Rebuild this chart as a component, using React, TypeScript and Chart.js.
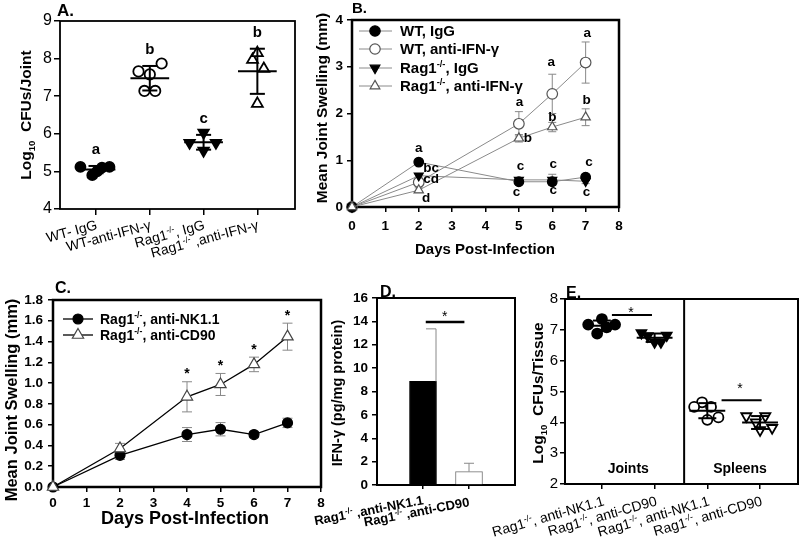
import React, { useEffect, useRef } from 'react';
import { Chart, registerables } from 'chart.js';

Chart.register(...registerables);

const FONT = '"Liberation Sans", Arial, Helvetica, sans-serif';

// ---------------- Panel A data ----------------
const aCategories = ['WT- IgG', 'WT-anti-IFN-γ', 'Rag1^{-/-}, IgG', 'Rag1^{-/-} ,anti-IFN-γ'];
const aWtIgG = [5.12, 4.9, 5.0, 5.1, 5.12];
const aWtIgGJitter = [-0.29, -0.07, 0.02, 0.11, 0.25];
const aWtAnti = [7.66, 7.58, 7.87, 7.14, 7.14];
const aWtAntiJitter = [-0.21, 0.0, 0.22, -0.1, 0.1];
const aRagIgG = [6.03, 5.76, 5.76, 5.55];
const aRagIgGJitter = [0.0, -0.26, 0.23, 0.0];
const aRagAnti = [7.97, 8.15, 7.73, 6.8];
const aRagAntiJitter = [-0.09, 0.0, 0.12, 0.0];
const aLetters = ['a', 'b', 'c', 'b'];
const aYTicks = [4, 5, 6, 7, 8, 9];

// ---------------- Panel B data ----------------
const bDays = [0, 2, 5, 6, 7];
const bXTicks = [0, 1, 2, 3, 4, 5, 6, 7, 8];
const bYTicks = [0, 1, 2, 3, 4];
const bSeriesNames = ['WT, IgG', 'WT, anti-IFN-γ', 'Rag1^{-/-}, IgG', 'Rag1^{-/-}, anti-IFN-γ'];
const bWtIgG = [0, 0.96, 0.54, 0.54, 0.64];
const bWtIgGErr = [0, 0.04, 0.05, 0.05, 0.05];
const bWtAnti = [0, 0.53, 1.78, 2.42, 3.09];
const bWtAntiErr = [0, 0.05, 0.26, 0.42, 0.44];
const bRagIgG = [0, 0.67, 0.58, 0.58, 0.55];
const bRagIgGErr = [0, 0.03, 0.05, 0.12, 0.05];
const bRagAnti = [0, 0.36, 1.47, 1.71, 1.92];
const bRagAntiErr = [0, 0.05, 0.08, 0.1, 0.18];
const bLetterText = ['a', 'bc', 'cd', 'd', 'a', 'b', 'c', 'c', 'a', 'b', 'c', 'c', 'a', 'b', 'c', 'c'];
const bLetterX = [2, 2.37, 2.37, 2.22, 5.02, 5.27, 5.05, 4.93, 5.97, 6.0, 6.03, 6.03, 7.05, 7.03, 7.1, 7.03];
const bLetterY = [1.26, 0.84, 0.6, 0.2, 2.25, 1.48, 0.88, 0.32, 3.11, 1.92, 0.93, 0.36, 3.73, 2.29, 0.97, 0.33];

// ---------------- Panel C data ----------------
const cDays = [0, 2, 4, 5, 6, 7];
const cXTicks = [0, 1, 2, 3, 4, 5, 6, 7, 8];
const cYTicks = [0, 0.2, 0.4, 0.6, 0.8, 1.0, 1.2, 1.4, 1.6, 1.8];
const cSeriesNames = ['Rag1^{-/-}, anti-NK1.1', 'Rag1^{-/-}, anti-CD90'];
const cNK = [0, 0.305, 0.505, 0.556, 0.505, 0.617];
const cNKErr = [0, 0.04, 0.067, 0.064, 0.03, 0.045];
const cCD90 = [0, 0.37, 0.868, 0.987, 1.18, 1.447];
const cCD90Err = [0, 0.05, 0.145, 0.106, 0.07, 0.13];
const cStarDays = [4, 5, 6, 7];

// ---------------- Panel D data ----------------
const dCategories = ['Rag1^{-/-} ,anti-NK1.1', 'Rag1^{-/-} ,anti-CD90'];
const dValues = [8.86, 1.14];
const dErrors = [4.5, 0.72];
const dYTicks = [0, 2, 4, 6, 8, 10, 12, 14, 16];

// ---------------- Panel E data ----------------
const eCategories = ['Rag1^{-/-}, anti-NK1.1', 'Rag1^{-/-}, anti-CD90', 'Rag1^{-/-}, anti-NK1.1', 'Rag1^{-/-}, anti-CD90'];
const eJointsNK = [7.17, 7.35, 7.17, 6.88, 7.08];
const eJointsNKJitter = [-0.26, 0.0, 0.25, -0.09, 0.09];
const eJointsCD90 = [6.9, 6.8, 6.6, 6.6, 6.82];
const eJointsCD90Jitter = [-0.25, -0.13, 0.0, 0.12, 0.23];
const eSpleensNK = [4.65, 4.5, 4.5, 4.08, 4.16];
const eSpleensNKJitter = [-0.1, -0.25, 0.07, 0.0, 0.21];
const eSpleensCD90 = [4.2, 4.0, 4.2, 3.75, 3.82];
const eSpleensCD90Jitter = [-0.26, -0.08, 0.1, 0.0, 0.23];
const eTissues = ['Joints', 'Spleens'];
const eYTicks = [2, 3, 4, 5, 6, 7, 8];

// ---------------- helpers ----------------
type Rect = { x: number; y: number; w: number; h: number };
type Plot = { l: number; t: number; r: number; b: number };

function frameOpts(rect: Rect, plot: Plot) {
  return {
    padding: { left: 0, top: plot.t - rect.y, right: rect.x + rect.w - plot.r, bottom: 0 },
    yW: plot.l - rect.x,
    xH: rect.y + rect.h - plot.b,
  };
}

function parseRich(s: string) {
  const out: { t: string; k: number }[] = [];
  const re = /([\^_])\{([^}]*)\}/g;
  let last = 0;
  let m: any;
  while ((m = re.exec(s)) !== null) {
    if (m.index > last) out.push({ t: s.slice(last, m.index), k: 0 });
    out.push({ t: m[2], k: m[1] === '^' ? 1 : 2 });
    last = re.lastIndex;
  }
  if (last < s.length) out.push({ t: s.slice(last), k: 0 });
  return out;
}

function fontStr(size: number, bold: boolean) {
  return `${bold ? 'bold ' : ''}${size}px ${FONT}`;
}

function drawRich(ctx: any, s: string, x: number, y: number, size: number, bold: boolean, align: string) {
  const parts = parseRich(s);
  const small = size * 0.62;
  const widths = parts.map((p) => {
    ctx.font = fontStr(p.k ? small : size, bold);
    return ctx.measureText(p.t).width;
  });
  const total = widths.reduce((a, b) => a + b, 0);
  let cx = align === 'left' ? x : align === 'center' ? x - total / 2 : x - total;
  ctx.textAlign = 'left';
  ctx.textBaseline = 'alphabetic';
  ctx.fillStyle = '#000';
  parts.forEach((p, i) => {
    ctx.font = fontStr(p.k ? small : size, bold);
    const dy = p.k === 1 ? -size * 0.4 : p.k === 2 ? size * 0.22 : 0;
    ctx.fillText(p.t, cx, y + dy);
    cx += widths[i];
  });
}

function drawRichRot(ctx: any, s: string, x: number, y: number, deg: number, size: number, bold: boolean, align: string) {
  ctx.save();
  ctx.translate(x, y);
  ctx.rotate((deg * Math.PI) / 180);
  drawRich(ctx, s, 0, 0, size, bold, align);
  ctx.restore();
}

function drawVTitle(ctx: any, s: string, cx: number, cy: number, size: number) {
  drawRichRot(ctx, s, cx + size * 0.35, cy, -90, size, true, 'center');
}

function drawStar(ctx: any, cx: number, cy: number, size: number, bold: boolean) {
  ctx.save();
  ctx.font = fontStr(size, bold);
  ctx.fillStyle = '#000';
  ctx.textAlign = 'center';
  ctx.textBaseline = 'alphabetic';
  ctx.fillText('*', cx, cy + size * 0.57);
  ctx.restore();
}

function seg(ctx: any, x1: number, y1: number, x2: number, y2: number) {
  ctx.beginPath();
  ctx.moveTo(x1, y1);
  ctx.lineTo(x2, y2);
  ctx.stroke();
}

function box(chart: any, lw: number) {
  const { ctx, chartArea: a } = chart;
  ctx.save();
  ctx.strokeStyle = '#000';
  ctx.lineWidth = lw;
  ctx.strokeRect(a.left, a.top, a.right - a.left, a.bottom - a.top);
  ctx.restore();
}

function mean(v: number[]) {
  return v.reduce((a, b) => a + b, 0) / v.length;
}
function sd(v: number[]) {
  const m = mean(v);
  return Math.sqrt(v.reduce((a, b) => a + (b - m) * (b - m), 0) / (v.length - 1));
}

function marker(ctx: any, style: string, x: number, y: number, r: number, fill: string, stroke: string, lw: number) {
  ctx.save();
  ctx.fillStyle = fill;
  ctx.strokeStyle = stroke;
  ctx.lineWidth = lw;
  ctx.beginPath();
  if (style === 'circle') {
    ctx.arc(x, y, r, 0, Math.PI * 2);
  } else {
    const dir = style === 'dtri' ? -1 : 1;
    ctx.moveTo(x, y - dir * r);
    ctx.lineTo(x + r * 0.866, y + dir * r * 0.5);
    ctx.lineTo(x - r * 0.866, y + dir * r * 0.5);
    ctx.closePath();
  }
  ctx.fill();
  ctx.stroke();
  ctx.restore();
}

function linAxis(o: any) {
  return {
    type: 'linear',
    min: o.min,
    max: o.max,
    offset: false,
    afterFit: o.fit,
    afterBuildTicks: (s: any) => {
      s.ticks = o.ticks.map((v: number) => ({ value: v }));
    },
    ticks: {
      display: o.show,
      color: '#000',
      padding: o.pad,
      autoSkip: false,
      maxRotation: 0,
      font: { family: FONT, size: o.size, weight: o.bold ? 'bold' : 'normal' },
      callback: o.fmt || ((v: number) => String(v)),
    },
    grid: {
      display: true,
      drawOnChartArea: false,
      drawTicks: true,
      tickLength: o.tl,
      tickColor: '#000',
      tickWidth: 1.5,
      color: '#000',
      lineWidth: 1.5,
      offset: false,
    },
    border: { display: false },
  };
}

function baseOptions(f: any, scales: any) {
  return {
    responsive: false,
    animation: false,
    devicePixelRatio: 1,
    events: [],
    layout: { padding: f.padding, autoPadding: false },
    plugins: { legend: { display: false }, tooltip: { enabled: false }, title: { display: false } },
    scales,
  };
}

// ---------------- Panel A ----------------
function makeA(rect: Rect) {
  const plot = { l: 60, t: 21, r: 295, b: 209 };
  const f = frameOpts(rect, plot);
  const groups = [aWtIgG, aWtAnti, aRagIgG, aRagAnti];
  const jit = [aWtIgGJitter, aWtAntiJitter, aRagIgGJitter, aRagAntiJitter];
  const st = [
    { ps: 'circle', rot: 0, r: 5, fill: '#000' },
    { ps: 'circle', rot: 0, r: 5.2, fill: '#fff' },
    { ps: 'triangle', rot: 180, r: 6, fill: '#000' },
    { ps: 'triangle', rot: 0, r: 6.3, fill: '#fff' },
  ];
  const datasets = groups.map((vals, i) => ({
    data: vals.map((v, k) => ({ x: i + 1 + jit[i][k], y: v })),
    pointStyle: st[i].ps,
    pointRotation: st[i].rot,
    pointRadius: st[i].r,
    pointBackgroundColor: st[i].fill,
    pointBorderColor: '#000',
    pointBorderWidth: 1.8,
    showLine: false,
    clip: false,
  }));
  const plugin = {
    id: 'aDecor',
    beforeDatasetsDraw(chart: any) {
      box(chart, 1.8);
    },
    afterDatasetsDraw(chart: any) {
      const { ctx, chartArea } = chart;
      const x = chart.scales.x;
      const y = chart.scales.y;
      const u = x.getPixelForValue(2) - x.getPixelForValue(1);
      ctx.save();
      ctx.strokeStyle = '#000';
      ctx.lineWidth = 2;
      groups.forEach((vals, i) => {
        const m = mean(vals);
        const s = sd(vals);
        const cx = x.getPixelForValue(i + 1);
        seg(ctx, cx - 0.36 * u, y.getPixelForValue(m), cx + 0.36 * u, y.getPixelForValue(m));
        seg(ctx, cx, y.getPixelForValue(m - s), cx, y.getPixelForValue(m + s));
        seg(ctx, cx - 0.14 * u, y.getPixelForValue(m - s), cx + 0.14 * u, y.getPixelForValue(m - s));
        seg(ctx, cx - 0.14 * u, y.getPixelForValue(m + s), cx + 0.14 * u, y.getPixelForValue(m + s));
        drawRich(ctx, aLetters[i], cx, y.getPixelForValue(m + s + 0.44) + 15 * 0.3, 15, true, 'center');
      });
      aCategories.forEach((c, i) => {
        drawRichRot(ctx, c, x.getPixelForValue(i + 1) + 2, chartArea.bottom + 20, -15, 14, false, 'right');
      });
      drawRich(ctx, 'A.', 57 - rect.x, 16 - rect.y, 17, true, 'left');
      drawVTitle(ctx, 'Log_{10}  CFUs/Joint', 26 - rect.x, 115 - rect.y, 15.5);
      ctx.restore();
    },
  };
  return {
    type: 'scatter',
    data: { datasets },
    options: baseOptions(f, {
      x: linAxis({ min: 0.33, max: 4.7, ticks: [1, 2, 3, 4], show: false, pad: 0, size: 14, bold: false, tl: 6, fit: (s: any) => { s.height = f.xH; } }),
      y: linAxis({ min: 4, max: 9, ticks: aYTicks, show: true, pad: 2, size: 16, bold: false, tl: 6, fit: (s: any) => { s.width = f.yW; } }),
    }),
    plugins: [plugin],
  };
}

// ---------------- Panel B ----------------
function makeB(rect: Rect) {
  const plot = { l: 352, t: 20, r: 619, b: 207 };
  const f = frameOpts(rect, plot);
  const series = [
    { v: bWtIgG, e: bWtIgGErr, ps: 'circle', mk: 'circle', rot: 0, r: 4.8, fill: '#000', stroke: '#000', order: 1 },
    { v: bWtAnti, e: bWtAntiErr, ps: 'circle', mk: 'circle', rot: 0, r: 5.3, fill: '#fff', stroke: '#555', order: 3 },
    { v: bRagIgG, e: bRagIgGErr, ps: 'triangle', mk: 'dtri', rot: 180, r: 5.2, fill: '#000', stroke: '#000', order: 2 },
    { v: bRagAnti, e: bRagAntiErr, ps: 'triangle', mk: 'tri', rot: 0, r: 5.4, fill: '#fff', stroke: '#555', order: 0 },
  ];
  const datasets = series.map((s) => ({
    data: s.v.map((v, k) => ({ x: bDays[k], y: v })),
    showLine: true,
    borderColor: '#8a8a8a',
    borderWidth: 1,
    pointStyle: s.ps,
    pointRotation: s.rot,
    pointRadius: s.r,
    pointBackgroundColor: s.fill,
    pointBorderColor: s.stroke,
    pointBorderWidth: 1.2,
    order: s.order,
    clip: false,
  }));
  const plugin = {
    id: 'bDecor',
    beforeDatasetsDraw(chart: any) {
      const { ctx } = chart;
      const x = chart.scales.x;
      const y = chart.scales.y;
      ctx.save();
      ctx.strokeStyle = '#888';
      ctx.lineWidth = 1;
      series.forEach((s) => {
        s.v.forEach((v, k) => {
          if (!s.e[k]) return;
          const px = x.getPixelForValue(bDays[k]);
          const y1 = y.getPixelForValue(v - s.e[k]);
          const y2 = y.getPixelForValue(v + s.e[k]);
          seg(ctx, px, y1, px, y2);
          seg(ctx, px - 4, y1, px + 4, y1);
          seg(ctx, px - 4, y2, px + 4, y2);
        });
      });
      ctx.restore();
      box(chart, 2.5);
    },
    afterDatasetsDraw(chart: any) {
      const { ctx } = chart;
      const x = chart.scales.x;
      const y = chart.scales.y;
      bLetterText.forEach((t, i) => {
        drawRich(ctx, t, x.getPixelForValue(bLetterX[i]), y.getPixelForValue(bLetterY[i]) + 13.5 * 0.3, 13.5, true, 'center');
      });
      // legend
      const ly = [31, 49, 68, 86];
      series.forEach((s, i) => {
        const yy = ly[i] - rect.y;
        ctx.save();
        ctx.strokeStyle = '#8a8a8a';
        ctx.lineWidth = 1;
        seg(ctx, 359 - rect.x, yy, 392 - rect.x, yy);
        ctx.restore();
        marker(ctx, s.mk, 375 - rect.x, yy, s.mk === 'circle' ? 5.2 : 5.6, s.fill, s.stroke, 1.2);
        drawRich(ctx, bSeriesNames[i], 400 - rect.x, yy + 5.3, 15, true, 'left');
      });
      drawRich(ctx, 'B.', 352 - rect.x, 13 - rect.y, 15, true, 'left');
      drawVTitle(ctx, 'Mean Joint Swelling (mm)', 322 - rect.x, 108 - rect.y, 15.5);
      drawRich(ctx, 'Days Post-Infection', 485 - rect.x, 254 - rect.y, 15, true, 'center');
    },
  };
  return {
    type: 'scatter',
    data: { datasets },
    options: baseOptions(f, {
      x: linAxis({ min: 0, max: 8, ticks: bXTicks, show: true, pad: 6, size: 13.5, bold: true, tl: 5, fit: (s: any) => { s.height = f.xH; } }),
      y: linAxis({ min: 0, max: 4, ticks: bYTicks, show: true, pad: 4, size: 13.5, bold: true, tl: 5, fit: (s: any) => { s.width = f.yW; } }),
    }),
    plugins: [plugin],
  };
}

// ---------------- Panel C ----------------
function makeC(rect: Rect) {
  const plot = { l: 53, t: 300, r: 321, b: 487 };
  const f = frameOpts(rect, plot);
  const series = [
    { v: cNK, e: cNKErr, ps: 'circle', mk: 'circle', r: 5, fill: '#000', stroke: '#000', order: 1 },
    { v: cCD90, e: cCD90Err, ps: 'triangle', mk: 'tri', r: 6.5, fill: '#fff', stroke: '#444', order: 0 },
  ];
  const datasets = series.map((s) => ({
    data: s.v.map((v, k) => ({ x: cDays[k], y: v })),
    showLine: true,
    borderColor: '#000',
    borderWidth: 1.3,
    pointStyle: s.ps,
    pointRadius: s.r,
    pointBackgroundColor: s.fill,
    pointBorderColor: s.stroke,
    pointBorderWidth: 1.2,
    order: s.order,
    clip: false,
  }));
  const plugin = {
    id: 'cDecor',
    beforeDatasetsDraw(chart: any) {
      const { ctx } = chart;
      const x = chart.scales.x;
      const y = chart.scales.y;
      ctx.save();
      ctx.strokeStyle = '#888';
      ctx.lineWidth = 1;
      series.forEach((s) => {
        s.v.forEach((v, k) => {
          if (!s.e[k]) return;
          const px = x.getPixelForValue(cDays[k]);
          const y1 = y.getPixelForValue(v - s.e[k]);
          const y2 = y.getPixelForValue(v + s.e[k]);
          seg(ctx, px, y1, px, y2);
          seg(ctx, px - 5, y1, px + 5, y1);
          seg(ctx, px - 5, y2, px + 5, y2);
        });
      });
      ctx.restore();
      box(chart, 2.5);
    },
    afterDatasetsDraw(chart: any) {
      const { ctx } = chart;
      const x = chart.scales.x;
      const y = chart.scales.y;
      cStarDays.forEach((d) => {
        const k = cDays.indexOf(d);
        drawStar(ctx, x.getPixelForValue(d), y.getPixelForValue(cCD90[k] + cCD90Err[k] + 0.11), 14, true);
      });
      const ly = [319, 335];
      series.forEach((s, i) => {
        const yy = ly[i] - rect.y;
        ctx.save();
        ctx.strokeStyle = '#000';
        ctx.lineWidth = 1.3;
        seg(ctx, 63 - rect.x, yy, 93 - rect.x, yy);
        ctx.restore();
        marker(ctx, s.mk, 78 - rect.x, yy, s.mk === 'circle' ? 5 : 6.5, s.fill, s.stroke, 1.2);
        drawRich(ctx, cSeriesNames[i], 100 - rect.x, yy + 5, 14, true, 'left');
      });
      drawRich(ctx, 'C.', 55 - rect.x, 293 - rect.y, 16, true, 'left');
      drawVTitle(ctx, 'Mean Joint Swelling (mm)', 11 - rect.x, 400 - rect.y, 16.5);
      drawRich(ctx, 'Days Post-Infection', 185 - rect.x, 524 - rect.y, 18, true, 'center');
    },
  };
  return {
    type: 'scatter',
    data: { datasets },
    options: baseOptions(f, {
      x: linAxis({ min: 0, max: 8, ticks: cXTicks, show: true, pad: 3, size: 13.5, bold: true, tl: 5, fit: (s: any) => { s.height = f.xH; } }),
      y: linAxis({ min: 0, max: 1.8, ticks: cYTicks, show: true, pad: 5, size: 13.5, bold: true, tl: 5, fmt: (v: number) => v.toFixed(1), fit: (s: any) => { s.width = f.yW; } }),
    }),
    plugins: [plugin],
  };
}

// ---------------- Panel D ----------------
function makeD(rect: Rect) {
  const plot = { l: 377, t: 298, r: 515, b: 485 };
  const f = frameOpts(rect, plot);
  const datasets = [
    {
      type: 'bar',
      data: dValues.map((v, i) => ({ x: i + 1, y: v })),
      backgroundColor: ['#000', '#fff'],
      borderColor: ['#000', '#777'],
      borderWidth: 1,
      barThickness: 27,
    },
  ];
  const plugin = {
    id: 'dDecor',
    beforeDatasetsDraw(chart: any) {
      box(chart, 2);
    },
    afterDatasetsDraw(chart: any) {
      const { ctx, chartArea } = chart;
      const x = chart.scales.x;
      const y = chart.scales.y;
      ctx.save();
      ctx.strokeStyle = '#888';
      ctx.lineWidth = 1;
      dValues.forEach((v, i) => {
        const cx = x.getPixelForValue(i + 1);
        const ex = i === 0 ? cx + 13 : cx;
        const y1 = y.getPixelForValue(v);
        const y2 = y.getPixelForValue(v + dErrors[i]);
        seg(ctx, ex, y1, ex, y2);
        if (i === 0) seg(ctx, ex - 10, y2, ex, y2);
        else seg(ctx, ex - 5, y2, ex + 5, y2);
      });
      ctx.strokeStyle = '#000';
      ctx.lineWidth = 2.5;
      const sy = y.getPixelForValue(13.95);
      seg(ctx, x.getPixelForValue(1.06), sy, x.getPixelForValue(1.9), sy);
      ctx.restore();
      drawStar(ctx, x.getPixelForValue(1.47), y.getPixelForValue(14.75), 14, false);
      dCategories.forEach((c, i) => {
        drawRichRot(ctx, c, x.getPixelForValue(i + 1) + 1, chartArea.bottom + (i === 0 ? 19 : 21), -11, 13, true, 'right');
      });
      drawRich(ctx, 'D.', 380 - rect.x, 297 - rect.y, 16, true, 'left');
      drawVTitle(ctx, 'IFN-γ (pg/mg protein)', 337 - rect.x, 393 - rect.y, 14.5);
    },
  };
  return {
    type: 'bar',
    data: { datasets },
    options: baseOptions(f, {
      x: linAxis({ min: 0, max: 3, ticks: [1, 2], show: false, pad: 0, size: 14, bold: true, tl: 4, fit: (s: any) => { s.height = f.xH; } }),
      y: linAxis({ min: 0, max: 16, ticks: dYTicks, show: true, pad: 4, size: 13.5, bold: true, tl: 5, fit: (s: any) => { s.width = f.yW; } }),
    }),
    plugins: [plugin],
  };
}

// ---------------- Panel E ----------------
function makeE(rect: Rect) {
  const plot = { l: 565, t: 299, r: 798, b: 484 };
  const f = frameOpts(rect, plot);
  const groups = [eJointsNK, eJointsCD90, eSpleensNK, eSpleensCD90];
  const jit = [eJointsNKJitter, eJointsCD90Jitter, eSpleensNKJitter, eSpleensCD90Jitter];
  const st = [
    { ps: 'circle', rot: 0, r: 5, fill: '#000' },
    { ps: 'triangle', rot: 180, r: 5.6, fill: '#000' },
    { ps: 'circle', rot: 0, r: 5, fill: '#fff' },
    { ps: 'triangle', rot: 180, r: 5.8, fill: '#fff' },
  ];
  const datasets = groups.map((vals, i) => ({
    data: vals.map((v, k) => ({ x: i + 1 + jit[i][k], y: v })),
    pointStyle: st[i].ps,
    pointRotation: st[i].rot,
    pointRadius: st[i].r,
    pointBackgroundColor: st[i].fill,
    pointBorderColor: '#000',
    pointBorderWidth: 1.8,
    showLine: false,
    clip: false,
  }));
  const plugin = {
    id: 'eDecor',
    beforeDatasetsDraw(chart: any) {
      box(chart, 2);
      const { ctx, chartArea } = chart;
      const x = chart.scales.x;
      ctx.save();
      ctx.strokeStyle = '#000';
      ctx.lineWidth = 2;
      const dx = x.getPixelForValue(2.56);
      seg(ctx, dx, chartArea.top, dx, chartArea.bottom);
      ctx.restore();
    },
    afterDatasetsDraw(chart: any) {
      const { ctx, chartArea } = chart;
      const x = chart.scales.x;
      const y = chart.scales.y;
      const u = x.getPixelForValue(2) - x.getPixelForValue(1);
      ctx.save();
      ctx.strokeStyle = '#000';
      ctx.lineWidth = 2;
      groups.forEach((vals, i) => {
        const m = mean(vals);
        const s = sd(vals);
        const cx = x.getPixelForValue(i + 1);
        seg(ctx, cx - 0.34 * u, y.getPixelForValue(m), cx + 0.34 * u, y.getPixelForValue(m));
        seg(ctx, cx, y.getPixelForValue(m - s), cx, y.getPixelForValue(m + s));
        seg(ctx, cx - 0.17 * u, y.getPixelForValue(m - s), cx + 0.17 * u, y.getPixelForValue(m - s));
        seg(ctx, cx - 0.17 * u, y.getPixelForValue(m + s), cx + 0.17 * u, y.getPixelForValue(m + s));
      });
      const s1 = y.getPixelForValue(7.48);
      seg(ctx, x.getPixelForValue(1.19), s1, x.getPixelForValue(1.95), s1);
      const s2 = y.getPixelForValue(4.72);
      seg(ctx, x.getPixelForValue(3.27), s2, x.getPixelForValue(4.03), s2);
      ctx.restore();
      drawStar(ctx, x.getPixelForValue(1.55), y.getPixelForValue(7.67), 14, false);
      drawStar(ctx, x.getPixelForValue(3.62), y.getPixelForValue(5.2), 14, false);
      drawRich(ctx, eTissues[0], x.getPixelForValue(1.5), chartArea.bottom - 11, 14, true, 'center');
      drawRich(ctx, eTissues[1], x.getPixelForValue(3.62), chartArea.bottom - 11, 14, true, 'center');
      eCategories.forEach((c, i) => {
        drawRichRot(ctx, c, x.getPixelForValue(i + 1) + 3, chartArea.bottom + 21, -16, 14, false, 'right');
      });
      drawRich(ctx, 'E.', 566 - rect.x, 298 - rect.y, 16, true, 'left');
      drawVTitle(ctx, 'Log_{10}  CFUs/Tissue', 538 - rect.x, 393 - rect.y, 15.5);
    },
  };
  return {
    type: 'scatter',
    data: { datasets },
    options: baseOptions(f, {
      x: linAxis({ min: 0.3, max: 4.72, ticks: [1, 2, 3, 4], show: false, pad: 0, size: 13, bold: false, tl: 5, fit: (s: any) => { s.height = f.xH; } }),
      y: linAxis({ min: 2, max: 8, ticks: eYTicks, show: true, pad: 2, size: 15, bold: false, tl: 5, fit: (s: any) => { s.width = f.yW; } }),
    }),
    plugins: [plugin],
  };
}

function Panel({ rect, make }: { rect: Rect; make: (r: Rect) => any }) {
  const ref = useRef<HTMLCanvasElement>(null);
  useEffect(() => {
    const chart = new Chart(ref.current as any, make(rect) as any);
    return () => chart.destroy();
  }, []);
  return (
    <canvas
      ref={ref}
      width={rect.w}
      height={rect.h}
      style={{ position: 'absolute', left: rect.x, top: rect.y, width: rect.w, height: rect.h }}
    />
  );
}

const RECT_A = { x: 0, y: 0, w: 310, h: 272 };
const RECT_B = { x: 300, y: 0, w: 340, h: 272 };
const RECT_C = { x: 0, y: 272, w: 335, h: 275 };
const RECT_D = { x: 288, y: 272, w: 242, h: 275 };
const RECT_E = { x: 470, y: 272, w: 330, h: 275 };

export default function App() {
  return (
    <div style={{ position: 'absolute', left: 0, top: 0, width: 800, height: 547, background: '#fff', overflow: 'hidden' }}>
      <Panel rect={RECT_A} make={makeA} />
      <Panel rect={RECT_B} make={makeB} />
      <Panel rect={RECT_C} make={makeC} />
      <Panel rect={RECT_D} make={makeD} />
      <Panel rect={RECT_E} make={makeE} />
    </div>
  );
}
